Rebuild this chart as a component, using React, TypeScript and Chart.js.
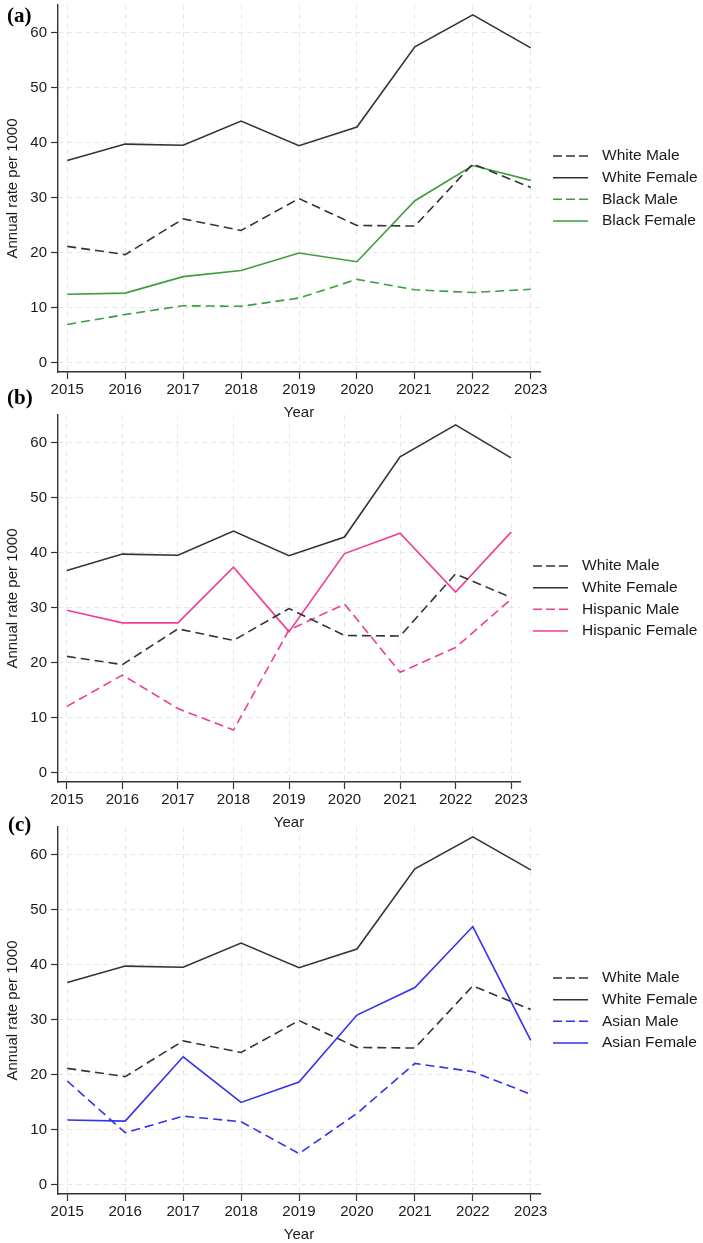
import React, { useEffect, useRef } from "react";
import { Chart, registerables } from "chart.js";

Chart.register(...registerables);

const years = [2015, 2016, 2017, 2018, 2019, 2020, 2021, 2022, 2023];
const yTicks = [0, 10, 20, 30, 40, 50, 60];

const whiteMale = [21.1, 19.6, 26.1, 24.0, 29.8, 24.9, 24.8, 36.1, 31.8];
const whiteFemale = [36.7, 39.7, 39.5, 43.9, 39.4, 42.8, 57.4, 63.2, 57.2];
const blackMale = [6.9, 8.7, 10.3, 10.2, 11.7, 15.1, 13.2, 12.7, 13.3];
const blackFemale = [12.4, 12.6, 15.6, 16.7, 19.9, 18.3, 29.4, 35.8, 33.1];
const hispanicMale = [12.0, 17.7, 11.6, 7.7, 25.9, 30.6, 18.2, 22.7, 31.5];
const hispanicFemale = [29.5, 27.2, 27.2, 37.3, 25.6, 39.8, 43.5, 32.8, 43.7];
const asianMale = [18.8, 9.4, 12.4, 11.4, 5.6, 12.9, 22.0, 20.5, 16.4];
const asianFemale = [11.7, 11.5, 23.2, 14.9, 18.6, 30.8, 35.8, 46.9, 26.2];

const FONT = '"Liberation Sans", Arial, sans-serif';
const TEXT = "#1a1a1a";
const DASH = [9, 5];

interface Series {
  label: string;
  values: number[];
  color: string;
  dashed: boolean;
}

const GRAY = "#333333";
const GREEN = "#3c9e3c";
const PINK = "#f03c96";
const BLUE = "#3232f0";

const whiteSeries: Series[] = [
  { label: "White Male", values: whiteMale, color: GRAY, dashed: true },
  { label: "White Female", values: whiteFemale, color: GRAY, dashed: false },
];

const panels: { tag: string; top: number; padRight: number; series: Series[] }[] = [
  {
    tag: "(a)",
    top: 0,
    padRight: 163,
    series: [
      ...whiteSeries,
      { label: "Black Male", values: blackMale, color: GREEN, dashed: true },
      { label: "Black Female", values: blackFemale, color: GREEN, dashed: false },
    ],
  },
  {
    tag: "(b)",
    top: 410,
    padRight: 183,
    series: [
      ...whiteSeries,
      { label: "Hispanic Male", values: hispanicMale, color: PINK, dashed: true },
      { label: "Hispanic Female", values: hispanicFemale, color: PINK, dashed: false },
    ],
  },
  {
    tag: "(c)",
    top: 822,
    padRight: 163,
    series: [
      ...whiteSeries,
      { label: "Asian Male", values: asianMale, color: BLUE, dashed: true },
      { label: "Asian Female", values: asianFemale, color: BLUE, dashed: false },
    ],
  },
];

// legend to the right of the plot, line sample + label, centred on the plot
const sideLegend = {
  id: "sideLegend",
  afterDraw(chart: any) {
    const { ctx, chartArea } = chart;
    const sets = chart.data.datasets;
    const rowGap = 21.7;
    const x0 = chartArea.right + 13;
    const mid = (chartArea.top + chartArea.bottom) / 2;
    ctx.save();
    sets.forEach((ds: any, i: number) => {
      const y = mid + (i - (sets.length - 1) / 2) * rowGap;
      ctx.strokeStyle = ds.borderColor;
      ctx.lineWidth = 1.5;
      ctx.setLineDash(ds.borderDash.length ? [9, 4] : []);
      ctx.beginPath();
      ctx.moveTo(x0, y);
      ctx.lineTo(x0 + 35, y);
      ctx.stroke();
      ctx.setLineDash([]);
      ctx.fillStyle = TEXT;
      ctx.font = `15.5px ${FONT}`;
      ctx.textAlign = "left";
      ctx.textBaseline = "middle";
      ctx.fillText(ds.label, x0 + 49, y);
    });
    ctx.restore();
  },
};

const Panel: React.FC<{ top: number; padRight: number; series: Series[] }> = ({
  top,
  padRight,
  series,
}) => {
  const canvasRef = useRef<HTMLCanvasElement | null>(null);

  useEffect(() => {
    if (!canvasRef.current) return;
    const ctx = canvasRef.current.getContext("2d");
    if (!ctx) return;

    const chart = new Chart(ctx, {
      type: "line",
      data: {
        datasets: series.map((s) => ({
          label: s.label,
          data: years.map((x, i) => ({ x, y: s.values[i] })),
          borderColor: s.color,
          backgroundColor: s.color,
          borderWidth: 1.6,
          borderDash: s.dashed ? DASH : [],
          pointRadius: 0,
          fill: false,
          tension: 0,
        })),
      },
      options: {
        animation: false,
        responsive: true,
        maintainAspectRatio: false,
        layout: { padding: { top: 5, right: padRight, left: 0, bottom: 0 } },
        plugins: {
          legend: { display: false },
          tooltip: { enabled: false },
        },
        scales: {
          x: {
            type: "linear",
            min: 2014.84,
            max: 2023.16,
            afterBuildTicks: (axis: any) => {
              axis.ticks = years.map((v) => ({ value: v }));
            },
            afterFit: (axis: any) => {
              axis.height = 53;
              axis.paddingLeft = 0;
              axis.paddingRight = 0;
            },
            ticks: {
              autoSkip: false,
              maxRotation: 0,
              padding: 2,
              color: TEXT,
              font: { family: FONT, size: 15 },
              callback: (v: any) => String(v),
            },
            grid: {
              color: "#e6e6e6",
              lineWidth: 1,
              tickColor: GRAY,
              tickLength: 7,
              tickWidth: 1.2,
            },
            border: { color: GRAY, width: 1.4, dash: [5, 4] },
            title: {
              display: true,
              text: "Year",
              color: TEXT,
              font: { family: FONT, size: 15 },
              padding: { top: 4, bottom: 3 },
            },
          },
          y: {
            type: "linear",
            min: -1.75,
            max: 65,
            afterBuildTicks: (axis: any) => {
              axis.ticks = yTicks.map((v) => ({ value: v }));
            },
            afterFit: (axis: any) => {
              axis.width = 58;
              axis.paddingTop = 0;
              axis.paddingBottom = 0;
            },
            ticks: {
              padding: 4,
              color: TEXT,
              font: { family: FONT, size: 15 },
            },
            grid: {
              color: "#e6e6e6",
              lineWidth: 1,
              tickColor: GRAY,
              tickLength: 7,
              tickWidth: 1.2,
            },
            border: { color: GRAY, width: 1.4, dash: [5, 4] },
            title: {
              display: true,
              text: "Annual rate per 1000",
              color: TEXT,
              font: { family: FONT, size: 15 },
              padding: { top: 4, bottom: 3 },
            },
          },
        },
      },
      plugins: [sideLegend],
    });

    return () => {
      chart.destroy();
    };
  }, [series, padRight]);

  return (
    <div style={{ position: "absolute", left: 0, top, width: 703, height: 425 }}>
      <canvas ref={canvasRef}></canvas>
    </div>
  );
};

const tagTops = [5, 387, 814];

const App: React.FC = () => {
  return (
    <div
      style={{
        position: "absolute",
        left: 0,
        top: 0,
        width: 703,
        height: 1243,
        overflow: "hidden",
        background: "#ffffff",
      }}
    >
      {panels.map((p) => (
        <Panel key={p.tag} top={p.top} padRight={p.padRight} series={p.series} />
      ))}
      {panels.map((p, i) => (
        <div
          key={"tag" + p.tag}
          style={{
            position: "absolute",
            left: i === 2 ? 8 : 7,
            top: tagTops[i],
            fontFamily: '"Liberation Serif", "Times New Roman", serif',
            fontWeight: "bold",
            fontSize: 21,
            lineHeight: "21px",
            color: "#000",
          }}
        >
          {p.tag}
        </div>
      ))}
    </div>
  );
};

export default App;
